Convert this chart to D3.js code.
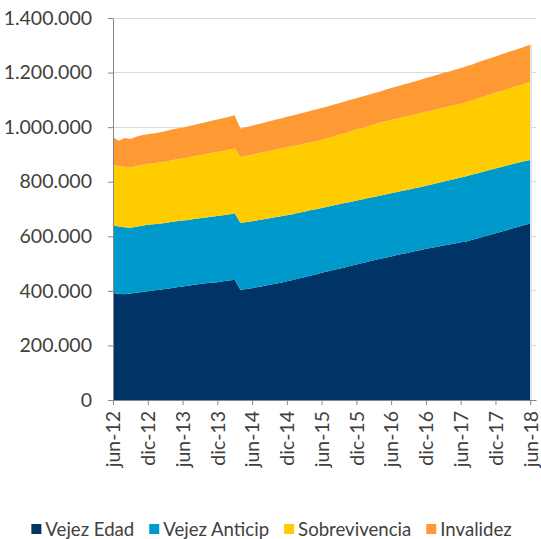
<!DOCTYPE html>
<html><head><meta charset="utf-8">
<script src="https://cdn.jsdelivr.net/npm/d3@7"></script>
<style>
body{margin:0;background:#fff;}
text{font-family:Lato,"Open Sans",sans-serif;fill:#404040;}
</style>
</head><body>
<svg id="chart" width="541" height="539"></svg>
<script>
// ---- data (values in thousands of pensions) ----
const UNIT = 1000;
const seriesNames = ["Vejez Edad","Vejez Anticip","Sobrevivencia","Invalidez"];
const seriesColors = ["#003366","#0099CC","#FFCC00","#FF9933"];

const vejezEdad = [392,389,388,390,393,396,399,401,404,407,
  410,413,416,419,422,425,428,430,432,435,
  438,441,404,407,410,414,418,422,426,430,
  435,440,445,450,455,460,466,471,476,481,
  486,492,497,502,507,512,517,521,526,531,
  536,540,545,549,554,558,562,566,570,574,
  578,581,587,593,599,605,611,617,623,629,
  635,641,647];
const vejezAnticip = [248,247,245,241,242,243,243,243,242,242,
  242,242,242,241,241,241,241,242,242,242,
  242,243,245,245,245,245,244,244,244,243,
  242,241,241,240,240,239,238,237,237,236,
  236,234,234,233,233,232,232,232,232,231,
  231,231,231,231,231,232,233,234,235,236,
  237,239,239,238,238,238,237,237,236,236,
  235,234,233];
const sobrevivencia = [222,221,222,220,223,223,223,224,224,224,
  226,227,227,229,230,231,232,233,235,236,
  237,238,242,243,244,245,246,247,247,249,
  249,250,249,250,249,249,249,251,252,255,
  256,258,260,262,263,266,267,268,268,269,
  269,270,270,271,271,271,271,271,271,271,
  271,272,273,275,275,276,278,278,280,281,
  282,284,286];
const invalidez = [102,93,105,106,107,108,109,109,110,112,
  112,113,113,114,115,116,117,118,119,120,
  121,122,104,105,106,107,108,109,110,110,
  112,112,113,114,115,117,117,117,117,116,
  116,116,115,115,115,114,114,116,117,118,
  119,120,121,122,124,125,126,127,128,129,
  130,131,131,132,133,133,133,134,135,134,
  135,136,136];

const xTickLabels = ["jun-12","dic-12","jun-13","dic-13","jun-14","dic-14","jun-15",
  "dic-15","jun-16","dic-16","jun-17","dic-17","jun-18"];
const yTickValues = [0,200000,400000,600000,800000,1000000,1200000,1400000];

// ---- build table ----
const seriesData = [vejezEdad, vejezAnticip, sobrevivencia, invalidez];
const table = vejezEdad.map((_, i) => {
  const row = {i: i};
  seriesNames.forEach((k, s) => row[k] = seriesData[s][i] * UNIT);
  return row;
});

const svg = d3.select("#chart");
const plot = {left: 113, right: 536, top: 18, bottom: 400};
const FS = 19.5;
const LEGEND_FS = 18.6;

const x = d3.scaleLinear().domain([0, table.length]).range([plot.left, plot.right]);
const y = d3.scaleLinear().domain([0, 1400000]).range([plot.bottom, plot.top]);

// gridlines
svg.append("g").selectAll("line").data(yTickValues.filter(v => v > 0)).join("line")
  .attr("x1", plot.left).attr("x2", plot.right)
  .attr("y1", d => y(d)).attr("y2", d => y(d))
  .attr("stroke", "#d9d9d9").attr("stroke-width", 1)
  .attr("shape-rendering", "crispEdges");

// stacked areas
const stack = d3.stack().keys(seriesNames);
const layers = stack(table);
const area = d3.area()
  .x(d => x(d.data.i))
  .y0(d => y(d[0]))
  .y1(d => y(d[1]));
svg.append("g").selectAll("path").data(layers).join("path")
  .attr("d", area)
  .attr("fill", (d, i) => seriesColors[i]);

// subtle shadow at right edge
svg.append("line")
  .attr("x1", x(table.length - 1) + 1).attr("x2", x(table.length - 1) + 1)
  .attr("y1", y(d3.sum(seriesData, s => s[s.length - 1]) * UNIT)).attr("y2", plot.bottom)
  .attr("stroke", "#e4e4e4").attr("stroke-width", 2);

const fmt = v => d3.format(",")(v).replace(/,/g, ".");

// y axis
const yAxis = svg.append("g").attr("transform", `translate(${plot.left},0)`)
  .call(d3.axisLeft(y).tickValues(yTickValues).tickFormat(fmt).tickSizeInner(5).tickSizeOuter(0).tickPadding(16));
yAxis.select(".domain").attr("stroke", "#868686");
yAxis.selectAll(".tick line").attr("stroke", "#868686");
yAxis.selectAll("text").attr("font-size", FS).attr("fill", "#404040")
  .style("font-family", "Lato, 'Open Sans', sans-serif");

// x axis
const xTickPos = xTickLabels.map((_, k) => k * 6);
const xAxis = svg.append("g").attr("transform", `translate(0,${plot.bottom})`)
  .call(d3.axisBottom(x).tickValues(xTickPos).tickFormat((d, k) => xTickLabels[k])
    .tickSizeInner(5).tickSizeOuter(0).tickPadding(7));
xAxis.select(".domain").attr("stroke", "#868686");
xAxis.selectAll(".tick line").attr("stroke", "#868686");
xAxis.selectAll("text")
  .attr("font-size", FS).attr("fill", "#404040")
  .style("font-family", "Lato, 'Open Sans', sans-serif")
  .attr("text-anchor", "end")
  .attr("transform", "rotate(-90)")
  .attr("x", -11).attr("y", 0).attr("dy", "0.35em");

// legend
const legend = svg.append("g");
const items = legend.selectAll("g").data(seriesNames).join("g");
items.append("rect").attr("width", 10).attr("height", 10).attr("y", 524)
  .attr("fill", (d, i) => seriesColors[i]);
items.append("text").text(d => d).attr("font-size", LEGEND_FS).attr("y", 536).attr("x", 14);
const widths = [];
items.each(function() {
  widths.push(14 + this.querySelector("text").getComputedTextLength());
});
const gap = 15;
const total = d3.sum(widths) + gap * (widths.length - 1);
let cur = 271.5 - total / 2;
items.attr("transform", (d, i) => {
  const t = `translate(${cur},0)`;
  cur += widths[i] + gap;
  return t;
});
</script>
</body></html>
